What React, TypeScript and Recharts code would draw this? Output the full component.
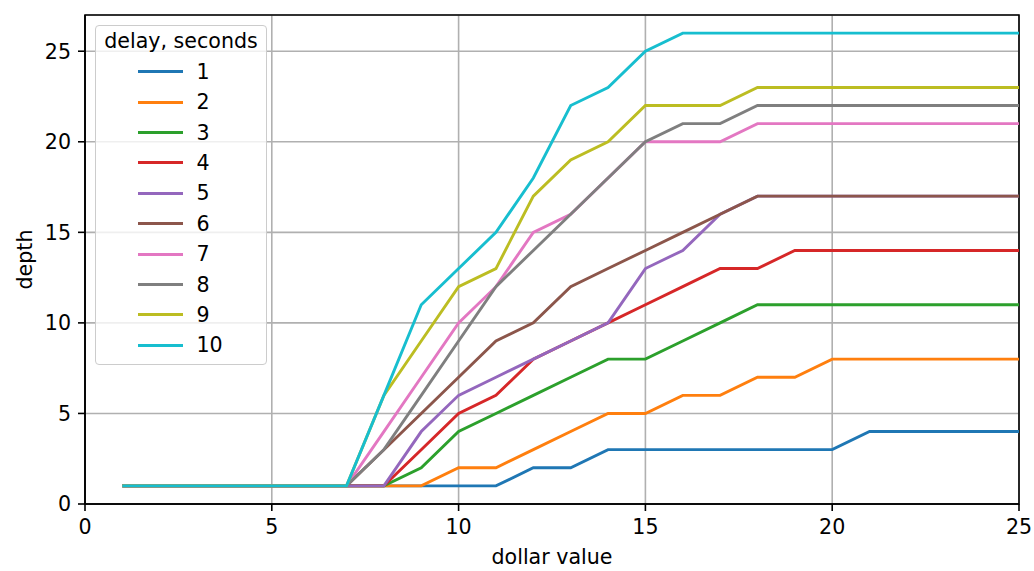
import {
  CartesianGrid,
  Legend,
  Line,
  LineChart,
  ReferenceArea,
  XAxis,
  YAxis,
} from 'recharts';

const dollarValues = [
  1, 2, 3, 4, 5, 6, 7, 8, 9, 10, 11, 12, 13, 14, 15, 16, 17, 18, 19, 20, 21,
  22, 23, 24, 25,
];

const delayLabels = ['1', '2', '3', '4', '5', '6', '7', '8', '9', '10'];

const depth1 = [1, 1, 1, 1, 1, 1, 1, 1, 1, 1, 1, 2, 2, 3, 3, 3, 3, 3, 3, 3, 4, 4, 4, 4, 4];
const depth2 = [1, 1, 1, 1, 1, 1, 1, 1, 1, 2, 2, 3, 4, 5, 5, 6, 6, 7, 7, 8, 8, 8, 8, 8, 8];
const depth3 = [1, 1, 1, 1, 1, 1, 1, 1, 2, 4, 5, 6, 7, 8, 8, 9, 10, 11, 11, 11, 11, 11, 11, 11, 11];
const depth4 = [1, 1, 1, 1, 1, 1, 1, 1, 3, 5, 6, 8, 9, 10, 11, 12, 13, 13, 14, 14, 14, 14, 14, 14, 14];
const depth5 = [1, 1, 1, 1, 1, 1, 1, 1, 4, 6, 7, 8, 9, 10, 13, 14, 16, 17, 17, 17, 17, 17, 17, 17, 17];
const depth6 = [1, 1, 1, 1, 1, 1, 1, 3, 5, 7, 9, 10, 12, 13, 14, 15, 16, 17, 17, 17, 17, 17, 17, 17, 17];
const depth7 = [1, 1, 1, 1, 1, 1, 1, 4, 7, 10, 12, 15, 16, 18, 20, 20, 20, 21, 21, 21, 21, 21, 21, 21, 21];
const depth8 = [1, 1, 1, 1, 1, 1, 1, 3, 6, 9, 12, 14, 16, 18, 20, 21, 21, 22, 22, 22, 22, 22, 22, 22, 22];
const depth9 = [1, 1, 1, 1, 1, 1, 1, 6, 9, 12, 13, 17, 19, 20, 22, 22, 22, 23, 23, 23, 23, 23, 23, 23, 23];
const depth10 = [1, 1, 1, 1, 1, 1, 1, 6, 11, 13, 15, 18, 22, 23, 25, 26, 26, 26, 26, 26, 26, 26, 26, 26, 26];

const xTicks = [0, 5, 10, 15, 20, 25];
const yTicks = [0, 5, 10, 15, 20, 25];

const depthSeries = [depth1, depth2, depth3, depth4, depth5, depth6, depth7, depth8, depth9, depth10];

const colors = [
  '#1f77b4',
  '#ff7f0e',
  '#2ca02c',
  '#d62728',
  '#9467bd',
  '#8c564b',
  '#e377c2',
  '#7f7f7f',
  '#bcbd22',
  '#17becf',
];

const data = dollarValues.map((x, i) => {
  const row: Record<string, number> = { x };
  depthSeries.forEach((values, s) => {
    row[`d${s + 1}`] = values[i];
  });
  return row;
});

const FONT = '"DejaVu Sans", sans-serif';
const FONT_SIZE = 20.6;

// legend keeps the series order (recharts would sort "10" after "1")
const renderLegend = () => (
  <div
    style={{
      boxSizing: 'border-box',
      width: 172,
      height: 340,
      border: '1.5px solid #cccccc',
      borderRadius: 4,
      background: 'rgba(255,255,255,0.8)',
      fontFamily: FONT,
      fontSize: FONT_SIZE,
      color: '#000',
      paddingTop: 3,
    }}
  >
    <div style={{ textAlign: 'center', lineHeight: '24px', marginBottom: 3.6 }}>
      delay, seconds
    </div>
    {delayLabels.map((label, s) => (
      <div
        key={label}
        style={{ display: 'flex', alignItems: 'center', height: 30.4 }}
      >
        <div
          style={{
            marginLeft: 41.5,
            width: 45,
            height: 3,
            background: colors[s],
          }}
        />
        <span style={{ marginLeft: 14, lineHeight: '24px' }}>{label}</span>
      </div>
    ))}
  </div>
);

const DepthLabel = ({ viewBox }: any) => {
  const cx = 25;
  const cy = viewBox.y + viewBox.height / 2;
  return (
    <text
      x={cx}
      y={cy}
      transform={`rotate(-90 ${cx} ${cy})`}
      textAnchor="middle"
      dominantBaseline="central"
      fontFamily={FONT}
      fontSize={FONT_SIZE}
      fill="#000"
    >
      depth
    </text>
  );
};

const DollarLabel = ({ viewBox }: any) => (
  <text
    x={viewBox.x + viewBox.width / 2}
    y={viewBox.y + 53}
    textAnchor="middle"
    dominantBaseline="central"
    fontFamily={FONT}
    fontSize={FONT_SIZE}
    fill="#000"
  >
    dollar value
  </text>
);

export default function App() {
  return (
    <div style={{ position: 'absolute', left: 0, top: 0, background: '#fff' }}>
      <LineChart
        width={1034}
        height={571}
        data={data}
        margin={{ top: 15, right: 15, bottom: 0, left: 0 }}
      >
        <CartesianGrid stroke="#b0b0b0" strokeWidth={1.6} />
        <XAxis
          dataKey="x"
          type="number"
          domain={[0, 25]}
          ticks={xTicks}
          interval={0}
          height={67}
          tickSize={7}
          tickMargin={8}
          axisLine={{ stroke: '#000', strokeWidth: 1.6 }}
          tickLine={{ stroke: '#000', strokeWidth: 1.6 }}
          tick={{ fill: '#000', fontSize: FONT_SIZE, fontFamily: FONT }}
          label={<DollarLabel />}
        />
        <YAxis
          type="number"
          domain={[0, 27]}
          ticks={yTicks}
          interval={0}
          width={85}
          tickSize={7}
          tickMargin={7}
          axisLine={{ stroke: '#000', strokeWidth: 1.6 }}
          tickLine={{ stroke: '#000', strokeWidth: 1.6 }}
          tick={{ fill: '#000', fontSize: FONT_SIZE, fontFamily: FONT }}
          label={<DepthLabel />}
        />
        {depthSeries.map((_, s) => (
          <Line
            key={s}
            type="linear"
            dataKey={`d${s + 1}`}
            name={delayLabels[s]}
            stroke={colors[s]}
            strokeWidth={2.9}
            dot={false}
            activeDot={false}
            isAnimationActive={false}
          />
        ))}
        <ReferenceArea
          x1={0}
          x2={25}
          y1={0}
          y2={27}
          fill="none"
          stroke="#000"
          strokeWidth={1.6}
          ifOverflow="visible"
        />
        <Legend
          layout="vertical"
          align="center"
          verticalAlign="middle"
          wrapperStyle={{ left: 95, top: 25, width: 172, height: 340 }}
          content={renderLegend}
        />
      </LineChart>
    </div>
  );
}
